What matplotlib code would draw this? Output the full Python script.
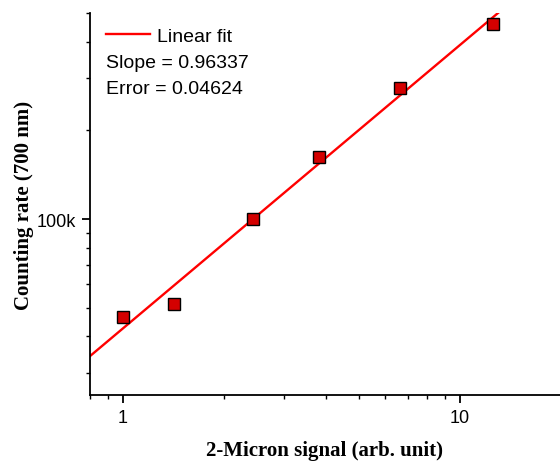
import numpy as np
import matplotlib
matplotlib.use("Agg")
import matplotlib.pyplot as plt
from matplotlib.ticker import FixedLocator, LogLocator, NullFormatter, FixedFormatter

# Data
signal = [1.0, 1.42, 2.43, 3.82, 6.64, 12.5]
counts = [46500, 51500, 100000, 162600, 278600, 459000]
slope_text = "Slope = 0.96337"
error_text = "Error = 0.04624"
x_ticks = [1, 10]
x_ticklabels = ["1", "10"]
y_ticks = [1e5]
y_ticklabels = ["100k"]

fig = plt.figure(figsize=(5.6, 4.64), dpi=100)
ax = fig.add_axes([90/560, 68/464, 470/560, 382/464])

ax.set_xscale("log")
ax.set_yscale("log")
ax.set_xlim(0.798, 19.8)
ax.set_ylim(25300, 500000)

# Linear fit in log-log space
lx = np.log10(signal)
ly = np.log10(counts)
k, b = np.polyfit(lx, ly, 1)
xf = np.logspace(np.log10(0.7), np.log10(25), 50)
yf = 10 ** (k * np.log10(xf) + b)
ax.plot(xf, yf, color="#ff0000", lw=1.7, label="Linear fit", zorder=2)

ax.plot(signal, counts, linestyle="none", marker="s", markersize=9.2,
        markerfacecolor="#d40000", markeredgecolor="black", markeredgewidth=1.0,
        zorder=3)

for s in ["top", "right"]:
    ax.spines[s].set_visible(False)
for s in ["left", "bottom"]:
    ax.spines[s].set_linewidth(1.3)

ax.xaxis.set_major_locator(FixedLocator(x_ticks))
ax.xaxis.set_major_formatter(FixedFormatter(x_ticklabels))
ax.xaxis.set_minor_locator(LogLocator(base=10, subs=np.arange(2, 10), numticks=20))
ax.xaxis.set_minor_formatter(NullFormatter())
ax.yaxis.set_major_locator(FixedLocator(y_ticks))
ax.yaxis.set_major_formatter(FixedFormatter(y_ticklabels))
ax.yaxis.set_minor_locator(LogLocator(base=10, subs=np.arange(2, 10), numticks=20))
ax.yaxis.set_minor_formatter(NullFormatter())

ax.tick_params(which="major", direction="out", length=6, width=1.3,
               labelsize=13, pad=4)
ax.tick_params(which="minor", direction="out", length=3, width=1.0)
for lab in ax.get_xticklabels() + ax.get_yticklabels():
    lab.set_family("Liberation Sans")

serif_bold = dict(family="Liberation Serif", fontweight="bold", fontsize=15)
ax.set_xlabel("2-Micron signal (arb. unit)", labelpad=10, **serif_bold)
ax.set_ylabel("Counting rate (700 nm)", labelpad=2, **serif_bold)

leg = ax.legend(loc="upper left", bbox_to_anchor=(16/470, 1 - 14/382),
                frameon=False, borderpad=0, borderaxespad=0,
                handlelength=2.25, handletextpad=0.38,
                prop={"family": "Liberation Sans", "size": 14})
ax.text(16/470, (396-64)/382, slope_text, transform=ax.transAxes,
        va="center", ha="left", family="Liberation Sans", fontsize=14)
ax.text(16/470, (396-89)/382, error_text, transform=ax.transAxes,
        va="center", ha="left", family="Liberation Sans", fontsize=14)

fig.savefig("out.png", dpi=100)
